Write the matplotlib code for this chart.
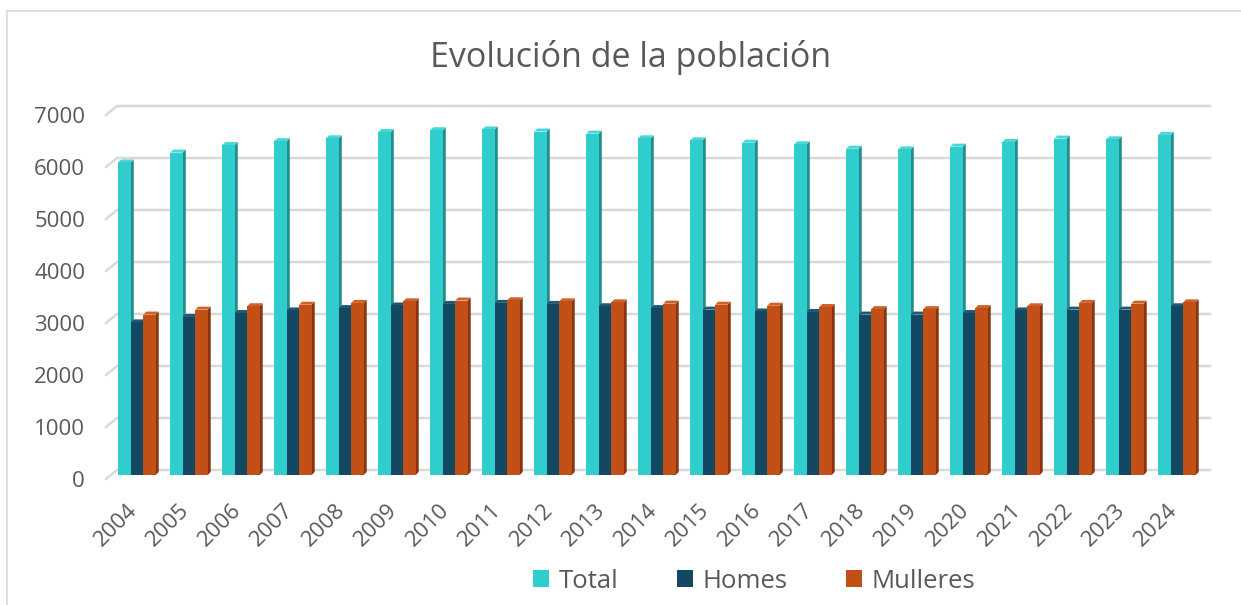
import matplotlib
matplotlib.use("Agg")
import matplotlib.pyplot as plt
import numpy as np
from matplotlib.lines import Line2D
from matplotlib.patches import Patch, Polygon
from matplotlib.transforms import ScaledTranslation

plt.rcParams["font.family"] = ["Open Sans", "DejaVu Sans"]

# --- data ---
years = [str(y) for y in range(2004, 2025)]
total = [6010, 6200, 6345, 6420, 6475, 6595, 6630, 6645, 6605, 6565, 6475,
         6435, 6390, 6360, 6275, 6260, 6315, 6405, 6470, 6455, 6540]
homes = [2935, 3040, 3115, 3165, 3210, 3260, 3290, 3310, 3290, 3245, 3210,
         3180, 3145, 3135, 3085, 3085, 3115, 3165, 3180, 3180, 3245]
mulleres = [3085, 3180, 3245, 3275, 3310, 3340, 3355, 3360, 3340, 3320, 3295,
            3275, 3255, 3230, 3190, 3190, 3210, 3245, 3310, 3295, 3320]
yticks = [0, 1000, 2000, 3000, 4000, 5000, 6000, 7000]

series = [
    ("Total", total, "#31CCCC", "#1F8E8C", "#45D8D6"),
    ("Homes", homes, "#124862", "#0A2D3E", "#1E5A75"),
    ("Mulleres", mulleres, "#C25016", "#86360E", "#D0602A"),
]
TEXT = "#595959"
GRID = "#D9D9D9"

W, H, DPI = 1241, 605, 100
fig = plt.figure(figsize=(W / DPI, H / DPI), dpi=DPI, facecolor="white")


def fx(px):
    return px / W


def fy(py):
    return 1 - py / H


# axes = the plane in which the bars stand (0 at y=475px, 7000 at y=111px)
ax = fig.add_axes([fx(111), fy(475), fx(1203) - fx(111), fy(111) - fy(475)])
ax.set_xlim(-0.5, len(years) - 0.5)
ax.set_ylim(0, 7000)
ax.axis("off")

# data units per pixel
ux = (len(years)) / (1203 - 111)
uy = 7000 / (475 - 111)
dx, dy = 3 * ux, 3 * uy  # bar depth

# gridlines on the back wall, with the small side-wall stub at the left
for v in yticks:
    back = v + 5 * uy
    front = v - 4 * uy
    ax.plot([-0.5 - 5 * ux, -0.5 + 6 * ux, len(years) - 0.5 + 7 * ux],
            [front, back, back], color=GRID, lw=1.8, clip_on=False, zorder=0)

x = np.arange(len(years))
width = 0.24
offsets = [-width, 0, width]
for k, (name, vals, c_front, c_side, c_top) in enumerate(series):
    xs = x + offsets[k]
    z = 2 + 2 * k
    for xc, h in zip(xs, vals):
        x0, x1 = xc - width / 2, xc + width / 2
        ax.add_patch(Polygon([(x1, 0), (x1 + dx, dy), (x1 + dx, h + dy), (x1, h)],
                             closed=True, fc=c_side, ec="none", zorder=z))
        ax.add_patch(Polygon([(x0, h), (x0 + dx, h + dy), (x1 + dx, h + dy), (x1, h)],
                             closed=True, fc=c_top, ec="none", zorder=z))
    ax.bar(xs, vals, width, color=c_front, zorder=z + 1, linewidth=0)

# y labels
for v in yticks:
    ax.text(-0.0238, v, str(v), transform=ax.get_yaxis_transform()
            + ScaledTranslation(0, -12 / DPI, fig.dpi_scale_trans),
            ha="right", va="baseline", fontsize=16, color=TEXT)

# x labels, rotated
for xi, lab in zip(x, years):
    ax.text(xi, 0, lab, transform=ax.transData
            + ScaledTranslation(1 / DPI, -36 / DPI, fig.dpi_scale_trans),
            rotation=45, rotation_mode="anchor", ha="right", va="baseline",
            fontsize=16, color=TEXT)

fig.text(fx(631), fy(66.7), "Evolución de la población", ha="center",
         va="baseline", fontsize=24.5, color=TEXT)

handles = [Patch(facecolor=s[2], edgecolor="none", label=s[0]) for s in series]
fig.legend(handles=handles, loc="center", bbox_to_anchor=(fx(754), fy(581)),
           ncol=3, frameon=False, fontsize=18.5, labelcolor=TEXT,
           handlelength=0.62, handleheight=0.62, handletextpad=0.35,
           columnspacing=2.3, borderpad=0)

# chart area border (top and left visible in the crop)
fig.add_artist(Line2D([fx(7), fx(7)], [0, fy(11)], color=GRID, lw=1.2))
fig.add_artist(Line2D([fx(7), 1], [fy(11), fy(11)], color=GRID, lw=1.2))

fig.savefig("out.png", dpi=DPI, facecolor="white")
